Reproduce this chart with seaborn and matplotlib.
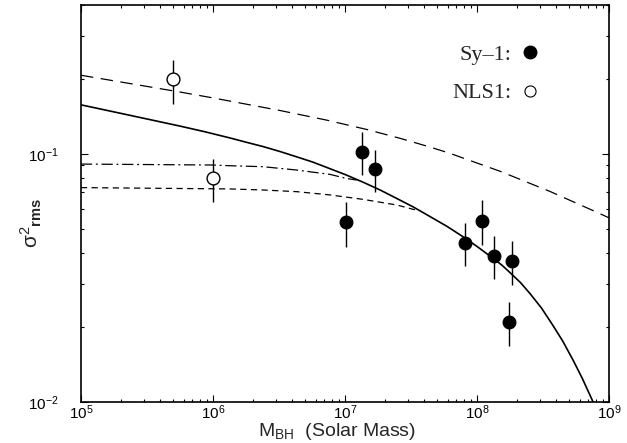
import seaborn as sns
import pandas as pd
import matplotlib.pyplot as plt
from matplotlib.lines import Line2D

###################
# Data
sy1_mass = [1.02e7, 1.36e7, 1.69e7, 8.1e7, 1.09e8, 1.35e8, 1.76e8, 1.85e8]
sy1_sig = [0.053, 0.102, 0.087, 0.0438, 0.0539, 0.0388, 0.0209, 0.037]
sy1_lo = [0.042, 0.082, 0.070, 0.0352, 0.043, 0.0313, 0.0168, 0.0297]
sy1_hi = [0.064, 0.123, 0.104, 0.0526, 0.0653, 0.0469, 0.0252, 0.0446]

nls1_mass = [5.0e5, 1.0e6]
nls1_sig = [0.200, 0.080]
nls1_lo = [0.159, 0.064]
nls1_hi = [0.239, 0.0955]

solid_m = [1e5, 2.37e5, 5.62e5, 8.7e5, 1.35e6, 1.8e6, 2.4e6, 3.24e6, 4.3e6,
           5.75e6, 7.7e6, 1.02e7, 1.38e7, 1.86e7, 2.47e7, 3.31e7, 4.4e7,
           5.89e7, 8.0e7, 1.02e8, 1.33e8, 1.55e8, 1.83e8, 2.14e8, 2.52e8,
           3.09e8, 3.78e8, 4.47e8, 5.37e8, 6.31e8, 7.4e8, 7.67e8]
solid_s = [0.158, 0.1432, 0.1297, 0.1230, 0.1161, 0.1115, 0.1072, 0.1023, 0.0975,
           0.0927, 0.0873, 0.0824, 0.0769, 0.0715, 0.0662, 0.0611, 0.0560,
           0.0512, 0.0461, 0.0421, 0.0379, 0.0356, 0.0328, 0.0303, 0.0274,
           0.0239, 0.0203, 0.0176, 0.0147, 0.0124, 0.0103, 0.00988]

longdash_m = [1e5, 5.62e5, 1e6, 3.22e6, 7.26e6, 1.46e7, 2.61e7, 4.4e7, 6.24e7,
              1.49e8, 3.57e8, 8.55e8, 1e9]
longdash_s = [0.208, 0.178, 0.1685, 0.1499, 0.1371, 0.1257, 0.1158, 0.1068, 0.1007,
              0.0853, 0.0707, 0.0575, 0.0553]

dashdot_m = [1e5, 1e6, 1.35e6, 2.4e6, 4.3e6, 7.7e6, 1.03e7, 1.23e7]
dashdot_s = [0.0911, 0.0903, 0.0897, 0.0889, 0.0862, 0.0828, 0.0797, 0.0785]

shortdash_m = [1e5, 1.35e6, 2.4e6, 4.3e6, 7.7e6, 1.38e7, 2.47e7, 3.3e7, 3.5e7]
shortdash_s = [0.0732, 0.0723, 0.0716, 0.0705, 0.0684, 0.0656, 0.0623, 0.0598, 0.0595]

###################
# Setup
sns.set_theme(style="ticks")
plt.rcParams["font.family"] = ["Liberation Sans", "DejaVu Sans"]
plt.rcParams["mathtext.fontset"] = "custom"
plt.rcParams["mathtext.rm"] = "Liberation Sans"
plt.rcParams["mathtext.it"] = "Liberation Sans:italic"
plt.rcParams["mathtext.bf"] = "Liberation Sans:bold"

fig, ax = plt.subplots(figsize=(6.27, 4.43), dpi=100)
fig.subplots_adjust(left=0.129, right=0.971, top=0.989, bottom=0.093)
ax.set(xscale="log", yscale="log")

curves = [
    (longdash_m, longdash_s, (10, 6)),
    (dashdot_m, dashdot_s, (9, 3, 1.5, 3)),
    (shortdash_m, shortdash_s, (5, 3.5)),
]
for m, s, dash in curves:
    df = pd.DataFrame({"mass": m, "sig": s})
    sns.lineplot(data=df, x="mass", y="sig", ax=ax, color="black", lw=0.9,
                 estimator=None, sort=False, zorder=2)
    ax.lines[-1].set_dashes(dash)

df = pd.DataFrame({"mass": solid_m, "sig": solid_s})
sns.lineplot(data=df, x="mass", y="sig", ax=ax, color="black", lw=1.2,
             estimator=None, sort=False, zorder=2)

###################
# Points with error bars
for m, s, lo, hi in [(sy1_mass, sy1_sig, sy1_lo, sy1_hi),
                     (nls1_mass, nls1_sig, nls1_lo, nls1_hi)]:
    yerr = [[a - b for a, b in zip(s, lo)], [b - a for a, b in zip(s, hi)]]
    ax.errorbar(m, s, yerr=yerr, fmt="none", ecolor="black", elinewidth=1.0,
                capsize=0, zorder=3)

sns.scatterplot(x=sy1_mass, y=sy1_sig, ax=ax, color="black", s=85,
                edgecolor="black", linewidth=0.8, zorder=4)
sns.scatterplot(x=nls1_mass, y=nls1_sig, ax=ax, color="white", s=85,
                edgecolor="black", linewidth=1.0, zorder=4)

###################
# Axes
ax.set_xlim(1e5, 1e9)
ax.set_ylim(1e-2, 0.4)
ax.tick_params(which="both", direction="in", top=True, right=True,
               colors="black", width=0.8)
ax.tick_params(which="major", length=5, labelsize=11)
ax.tick_params(which="minor", length=2.5)
ax.tick_params(axis="y", which="major", pad=16)
ax.tick_params(axis="x", which="major", pad=1.5)
for sp in ax.spines.values():
    sp.set_linewidth(1.2)
    sp.set_color("black")

ax.set_xlabel(r"M$_{\rm BH}$  (Solar Mass)", fontsize=14)
ax.xaxis.set_label_coords(0.485, -0.049)
ax.set_ylabel(r"$\mathregular{\sigma^{2}{}_{\bf rms}}$", fontsize=15)
ax.yaxis.set_label_coords(-0.07, 0.45)

handles = [
    Line2D([], [], ls="none", marker="o", ms=9, mfc="black", mec="black"),
    Line2D([], [], ls="none", marker="o", ms=8, mfc="white", mec="black", mew=0.8),
]
ax.legend(handles, ["Sy\u20131:", "NLS1:"], loc="upper left",
          bbox_to_anchor=(0.703, 0.90), frameon=False, markerfirst=False,
          handlelength=0.8, handletextpad=0.45, labelspacing=0.8,
          borderpad=0, borderaxespad=0,
          prop={"family": "Liberation Serif", "size": 16})

###################
# Export
fig.savefig("out.png", dpi=100)
